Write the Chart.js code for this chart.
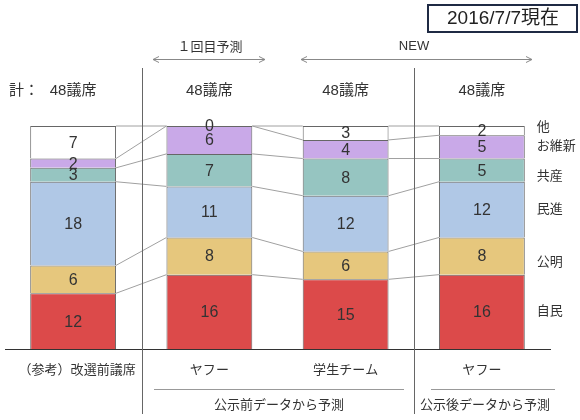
<!DOCTYPE html>
<html>
<head>
<meta charset="utf-8">
<script src="https://cdn.jsdelivr.net/npm/chart.js@4.4.1/dist/chart.umd.min.js"></script>
<style>
  html, body { margin: 0; padding: 0; background: #fff; }
  #wrap { width: 580px; height: 420px; }
</style>
</head>
<body>
<div id="wrap"><canvas id="seatChart" width="580" height="420"></canvas></div>
<script>
// ---- data ----
const categories = ["（参考）改選前議席", "ヤフー", "学生チーム", "ヤフー"];
const totals = [48, 48, 48, 48];
const partyNames = ["自民", "公明", "民進", "共産", "お維新", "他"];
const jimin = [12, 16, 15, 16];
const komei = [6, 8, 6, 8];
const minshin = [18, 11, 12, 12];
const kyosan = [3, 7, 8, 5];
const ishin = [2, 6, 4, 5];
const others = [7, 0, 3, 2];

const partyColors = ["#dc4a4a", "#e6c77d", "#b0c8e6", "#96c5c1", "#c9a9e8", "#ffffff"];
const series = [jimin, komei, minshin, kyosan, ishin, others];

const JP_FONT = "'Liberation Sans', 'Noto Sans CJK JP', sans-serif";

// connectors, value labels, party names, headers
const annotatePlugin = {
  id: "annotate",
  beforeDatasetsDraw(chart) {
    const ctx = chart.ctx;
    ctx.save();
    ctx.strokeStyle = "#a0a0a0";
    ctx.lineWidth = 1;
    series.forEach((s, d) => {
      const bars = chart.getDatasetMeta(d).data;
      for (let i = 0; i < bars.length - 1; i++) {
        const a = bars[i], b = bars[i + 1];
        ctx.beginPath();
        ctx.moveTo(a.x + a.width / 2, a.y);
        ctx.lineTo(b.x - b.width / 2, b.y);
        ctx.stroke();
      }
    });
    ctx.restore();
  },
  afterDatasetsDraw(chart) {
    const ctx = chart.ctx;
    const area = chart.chartArea;
    const xs = chart.scales.x;
    ctx.save();

    // value labels
    ctx.fillStyle = "#333";
    ctx.font = "16px 'Liberation Sans', Arial, sans-serif";
    ctx.textAlign = "center";
    ctx.textBaseline = "middle";
    series.forEach((s, d) => {
      chart.getDatasetMeta(d).data.forEach((bar, i) => {
        ctx.fillText(String(s[i]), bar.x, (bar.y + bar.base) / 2 + 1);
      });
    });

    // party names next to last bar
    ctx.font = "13px " + JP_FONT;
    ctx.textAlign = "left";
    const last = categories.length - 1;
    series.forEach((s, d) => {
      const bar = chart.getDatasetMeta(d).data[last];
      let y = (bar.y + bar.base) / 2;
      if (d === 1) y += 6;
      if (d === 3) y += 6;
      if (d === 5) y -= 3;
      ctx.fillText(partyNames[d], bar.x + bar.width / 2 + 12, y);
    });

    // vertical separators
    const sep1 = (xs.getPixelForValue(0) + xs.getPixelForValue(1)) / 2 + 1;
    const sep2 = (xs.getPixelForValue(2) + xs.getPixelForValue(3)) / 2;
    ctx.strokeStyle = "#666";
    ctx.lineWidth = 1;
    [sep1, sep2].forEach((x) => {
      ctx.beginPath();
      ctx.moveTo(Math.round(x) + 0.5, 68);
      ctx.lineTo(Math.round(x) + 0.5, 414);
      ctx.stroke();
    });

    // seat totals above bars
    ctx.fillStyle = "#333";
    ctx.font = "15px " + JP_FONT;
    ctx.textAlign = "center";
    categories.forEach((c, i) => {
      ctx.fillText(totals[i] + "議席", xs.getPixelForValue(i), 91);
    });
    ctx.textAlign = "left";
    ctx.fillText("計：", 9, 91);

    // category labels below axis
    ctx.font = "13px " + JP_FONT;
    ctx.textAlign = "center";
    categories.forEach((c, i) => {
      ctx.fillText(c, xs.getPixelForValue(i) + (i === 0 ? 4 : 0), area.bottom + 21);
    });

    // group lines and captions
    ctx.strokeStyle = "#999";
    ctx.beginPath();
    ctx.moveTo(154, 389.5); ctx.lineTo(404, 389.5);
    ctx.moveTo(431, 389.5); ctx.lineTo(555, 389.5);
    ctx.stroke();
    ctx.fillStyle = "#333";
    ctx.fillText("公示前データから予測", 279, 405);
    ctx.fillText("公示後データから予測", 485, 405);

    // arrows
    const arrow = (x1, x2, y) => {
      ctx.beginPath();
      ctx.moveTo(x1, y); ctx.lineTo(x2, y);
      ctx.moveTo(x1 + 6, y - 3); ctx.lineTo(x1, y); ctx.lineTo(x1 + 6, y + 3);
      ctx.moveTo(x2 - 6, y - 3); ctx.lineTo(x2, y); ctx.lineTo(x2 - 6, y + 3);
      ctx.stroke();
    };
    ctx.strokeStyle = "#888";
    arrow(153, 265, 59.5);
    arrow(301, 532, 59.5);
    ctx.font = "13px " + JP_FONT;
    ctx.fillText("１回目予測", 210, 47);
    ctx.font = "13px 'Liberation Sans', Arial, sans-serif";
    ctx.fillText("NEW", 414, 46);

    // date box
    ctx.strokeStyle = "#1f2a44";
    ctx.lineWidth = 2;
    ctx.strokeRect(428, 5, 149, 27);
    ctx.fillStyle = "#222";
    ctx.font = "19px " + JP_FONT;
    ctx.fillText("2016/7/7現在", 503, 19);

    ctx.restore();
  },
};

new Chart(document.getElementById("seatChart"), {
  type: "bar",
  data: {
    labels: categories,
    datasets: series.map((s, d) => ({
      label: partyNames[d],
      data: s,
      backgroundColor: partyColors[d],
      borderColor: "#666",
      borderWidth: { top: 1, left: 1, right: 1, bottom: 0 },
      borderSkipped: false,
      categoryPercentage: 1,
      barPercentage: 0.63,
    })),
  },
  options: {
    responsive: false,
    animation: false,
    layout: { padding: { top: 126, left: 5, right: 30, bottom: 71 } },
    plugins: {
      legend: { display: false },
      tooltip: { enabled: false },
    },
    scales: {
      x: {
        stacked: true,
        grid: { display: false, drawTicks: false, tickLength: 0 },
        ticks: { display: false },
        border: { display: true, color: "#333", width: 1 },
      },
      y: {
        stacked: true,
        display: false,
        min: 0,
        max: 48,
      },
    },
  },
  plugins: [annotatePlugin],
});
</script>
</body>
</html>
